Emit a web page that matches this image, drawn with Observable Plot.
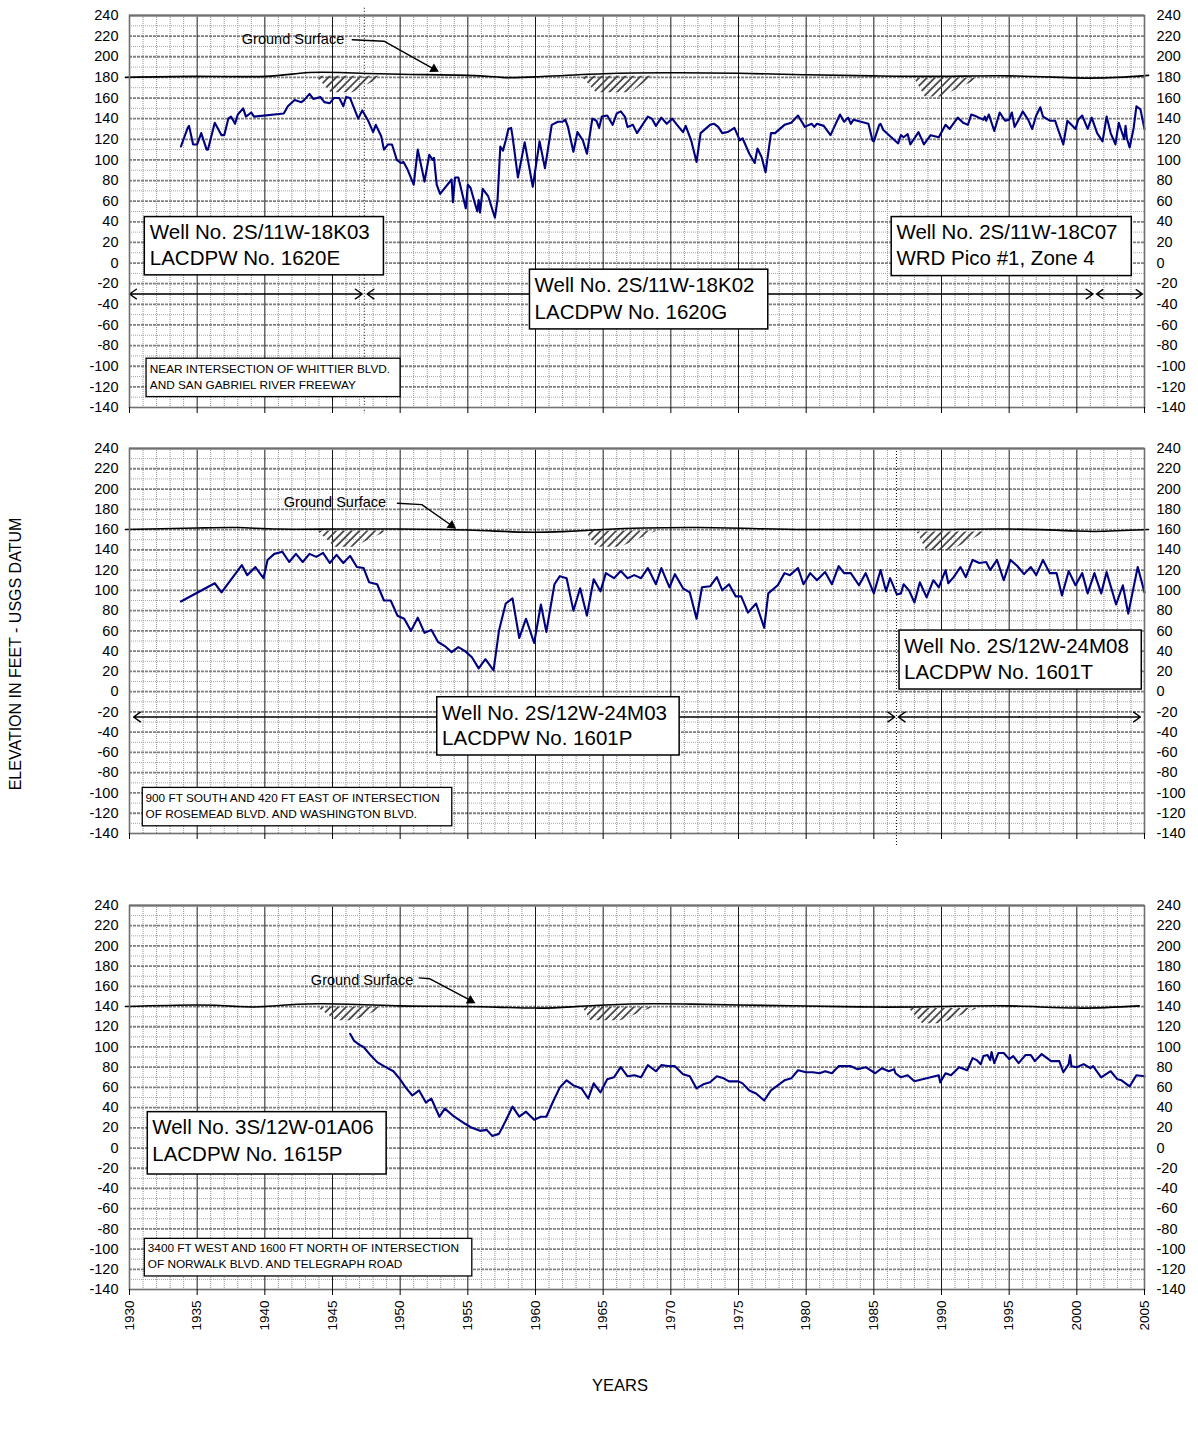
<!DOCTYPE html>
<html>
<head>
<meta charset="utf-8">
<script src="https://cdn.jsdelivr.net/npm/d3@7"></script>
<script src="https://cdn.jsdelivr.net/npm/@observablehq/plot@0.6"></script>
<style>
  body { margin: 0; background: #fff; }
  #page { position: relative; width: 1198px; height: 1432px; font-family: Arial, "Liberation Sans", Helvetica, sans-serif; color: #000; }
  .panel { position: absolute; left: 0; }
  #ytitle { position: absolute; left: 16px; top: 654px; transform: translate(-50%, -50%) rotate(-90deg); white-space: nowrap; font-size: 16px; }
  #xtitle { position: absolute; left: 620px; top: 1385px; transform: translate(-50%, -50%); font-size: 16.5px; }
</style>
</head>
<body>
<div id="page">
  <div id="ytitle">ELEVATION IN FEET - USGS DATUM</div>
  <div id="xtitle">YEARS</div>
</div>
<script>
// ---------------- DATA ----------------
// Panel 1 : Wells 2S/11W-18K03, 18K02, 18C07 (combined hydrograph)
const p1Year = [1933.8,1934.3,1934.4,1934.7,1935.0,1935.3,1935.7,1935.8,1936.3,1936.8,1937.0,1937.3,1937.5,1937.8,1938.0,1938.4,1938.6,1939.0,1939.2,
  1941.4,1941.7,1942.2,1942.7,1942.9,1943.3,1943.6,1944.1,1944.4,1944.8,1945.1,1945.5,1945.8,1946.0,1946.3,1946.9,1947.2,1947.6,1948.0,1948.2,
  1948.6,1948.8,1949.1,1949.4,1949.75,1950.05,1950.25,1950.5,1951.0,1951.3,1951.8,1952.15,1952.4,1952.5,1952.7,1952.95,1953.8,1953.9,1954.05,1954.3,
  1954.85,1955.0,1955.2,1955.5,1955.7,1955.8,1955.9,1956.1,1956.5,1957.0,1957.2,1957.4,1957.6,1957.8,1958.0,1958.2,1958.3,1958.7,1959.2,1959.8,
  1960.3,1960.7,1961.2,1961.65,1962.0,1962.2,1962.4,1962.8,1963.1,1963.5,1963.8,1964.2,1964.5,1964.7,1964.9,1965.3,1965.7,1966.0,1966.3,1966.6,
  1966.8,1967.2,1967.5,1967.9,1968.3,1968.6,1968.9,1969.3,1969.7,1970.1,1970.4,1970.9,1971.1,1971.5,1971.9,1972.2,1972.9,1973.2,1973.5,1973.8,
  1974.2,1974.7,1975.1,1975.3,1975.8,1976.2,1976.4,1976.7,1977.0,1977.4,1977.7,1978.4,1978.9,1979.4,1979.9,1980.4,1980.6,1980.8,1981.3,1981.8,
  1982.5,1982.8,1983.1,1983.3,1983.5,1984.6,1984.9,1985.0,1985.4,1985.5,1985.7,1986.8,1987.0,1987.2,1987.5,1987.7,1988.3,1988.7,1989.2,1989.8,
  1990.3,1990.6,1991.2,1991.6,1991.95,1992.2,1992.6,1993.1,1993.2,1993.3,1993.5,1993.9,1994.3,1994.7,1995.0,1995.2,1995.4,1995.7,1996.0,1996.4,
  1996.7,1997.0,1997.3,1997.5,1998.0,1998.4,1998.6,1999.0,1999.3,1999.6,1999.9,2000.1,2000.4,2000.8,2001.1,2001.5,2001.9,2002.2,2002.5,2002.85,
  2003.1,2003.5,2003.6,2003.7,2003.9,2004.2,2004.4,2004.7,2005.0];
const p1Elev = [113,131,133,115,115,126,110,110,136,124,124,140,142,135,144,150,142,146,142,
  145,152,158,156,158,164,159,161,156,155,160,160,152,161,160,140,148,139,127,134,
  123,110,115,115,100,97,98,92,76,110,79,105,100,102,76,67,81,59,83,83,
  53,76,73,59,50,61,49,72,65,44,62,113,109,119,130,131,123,83,117,74,
  118,92,134,137,137,139,132,108,127,119,106,140,138,131,142,143,134,145,147,142,
  132,134,126,134,142,140,133,141,135,140,135,127,133,119,98,126,134,135,132,126,
  127,131,119,121,106,97,111,103,88,126,126,134,136,143,132,135,132,135,133,124,
  144,137,141,135,139,135,119,118,134,135,129,116,124,122,125,115,127,115,124,122,
  134,130,141,136,134,144,142,139,142,138,144,128,146,138,139,146,132,139,147,139,
  130,143,151,142,138,138,130,115,138,134,130,139,143,130,141,126,118,142,126,115,
  136,120,133,121,112,131,152,149,130];
const p1GroundYear = [1929.7,1935,1940,1943,1946,1950,1955,1957.5,1960,1965,1970,1975,1980,1985,1990,1995,2000,2003,2005.3];
const p1GroundElev = [180,181,181,184.5,184.5,183,182,180,180.5,183.5,184.5,184,182.5,181.5,181,181.5,179.5,180,182];

// Panel 2 : Wells 2S/12W-24M03 and 24M08
const p2Year = [1933.8,1936.3,1936.8,1938.3,1938.7,1939.3,1939.9,1940.2,1940.7,1941.3,1941.8,1942.3,1942.8,1943.3,1943.8,1944.3,1944.8,1945.3,1945.8,1946.3,
  1946.8,1947.3,1947.7,1948.3,1948.8,1949.3,1949.8,1950.3,1950.8,1951.3,1951.8,1952.3,1952.8,1953.3,1953.8,1954.3,1954.8,1955.3,1955.8,1956.3,
  1956.9,1957.3,1957.8,1958.3,1958.8,1959.3,1959.9,1960.4,1960.8,1961.4,1961.8,1962.3,1962.8,1963.3,1963.8,1964.3,1964.8,1965.2,1965.8,1966.3,
  1966.8,1967.3,1967.8,1968.3,1968.9,1969.3,1969.9,1970.3,1970.9,1971.4,1971.9,1972.3,1972.9,1973.4,1973.8,1974.3,1974.8,1975.2,1975.7,1976.3,
  1976.9,1977.2,1977.9,1978.4,1978.8,1979.4,1979.8,1980.3,1980.8,1981.4,1981.9,1982.4,1982.8,1983.3,1983.9,1984.4,1985.0,1985.5,1985.9,1986.2,
  1986.7,1987.0,1987.2,1987.6,1988.0,1988.4,1988.9,1989.4,1989.8,1990.3,1990.5,1990.9,1991.4,1991.8,1992.3,1992.8,1993.3,1993.6,1994.1,1994.6,
  1995.1,1995.6,1996.1,1996.6,1997.0,1997.5,1998.0,1998.5,1998.9,1999.4,1999.9,2000.4,2000.8,2001.3,2001.8,2002.2,2002.9,2003.4,2003.8,2004.5,2005.0];
const p2Elev = [89,107,98,125,115,123,112,130,136,138,128,136,128,136,133,137,127,135,127,134,
  123,122,108,106,90,90,75,72,60,73,58,61,49,45,39,44,40,34,23,32,
  21,60,87,92,53,72,48,86,59,106,114,112,80,102,75,111,99,117,112,119,
  112,115,112,122,106,122,103,116,102,98,72,103,104,113,100,106,94,94,78,87,
  63,97,105,117,115,122,106,117,110,118,106,124,117,117,105,117,97,120,99,112,
  96,97,106,100,88,108,93,110,103,120,107,113,123,113,130,127,128,120,130,110,
  130,124,116,123,115,130,117,117,95,119,105,117,97,117,97,118,86,105,77,123,98];
const p2GroundYear = [1929.7,1935,1938,1941,1945,1950,1955,1959,1962,1965,1968,1972,1976,1980,1985,1990,1995,2000,2002,2005.3];
const p2GroundElev = [160,161.5,162,160.5,160.5,160.5,159.5,157.5,158,160,161.5,162,161,160,160,160,160.5,158.5,158.3,160];

// Panel 3 : Well 3S/12W-01A06
const p3Year = [1946.3,1946.6,1947.0,1947.3,1947.8,1948.3,1948.8,1949.5,1950.0,1950.4,1950.9,1951.4,1951.9,1952.3,1952.9,1953.3,1954.0,1954.8,1955.3,1955.9,
  1956.4,1956.8,1957.3,1957.8,1958.3,1958.8,1959.3,1959.9,1960.4,1960.8,1961.3,1961.8,1962.3,1962.8,1963.4,1963.9,1964.3,1964.8,1965.3,1965.8,
  1966.3,1966.8,1967.3,1967.8,1968.3,1968.9,1969.3,1969.9,1970.3,1970.9,1971.4,1971.9,1972.4,1972.9,1973.4,1973.9,1974.3,1975.0,1975.3,1975.8,
  1976.3,1976.9,1977.4,1977.9,1978.4,1978.9,1979.4,1980.0,1980.5,1981.0,1981.4,1981.9,1982.4,1982.8,1983.3,1983.8,1984.4,1985.1,1985.6,1986.1,
  1986.5,1986.6,1987.0,1987.5,1988.0,1988.6,1989.8,1989.9,1990.3,1990.7,1991.3,1991.9,1992.3,1992.6,1992.9,1993.1,1993.4,1993.6,1993.7,1993.9,
  1994.2,1994.6,1995.0,1995.3,1995.7,1996.2,1996.6,1996.9,1997.4,1998.1,1998.7,1999.0,1999.4,1999.5,1999.6,2000.0,2000.5,2001.0,2001.2,2001.8,
  2002.5,2003.0,2003.3,2003.9,2004.4,2005.0];
const p3Elev = [113,106,102,100,92,85,81,76,68,60,52,57,45,49,31,39,31,24,20,17,
  18,12,14,27,41,31,36,28,31,31,46,60,67,62,59,49,64,55,68,70,
  80,71,72,70,82,76,82,81,81,73,71,59,63,65,71,69,66,66,64,57,
  54,47,57,62,67,69,77,75,75,74,76,74,81,81,81,78,80,74,79,76,
  78,74,70,72,66,68,72,65,74,72,80,77,89,87,83,91,92,87,95,84,
  94,94,88,91,84,92,92,86,93,86,86,75,83,92,81,80,83,79,81,70,
  76,68,67,61,72,71];
const p3GroundYear = [1929.7,1935,1938,1940,1944,1950,1955,1960,1963,1967,1971,1975,1980,1985,1990,1995,2000,2004.6];
const p3GroundElev = [140,141.5,140,140,142.7,140.7,140,138.5,140,142.5,142.5,141.5,140.5,139.5,140,140.7,138.5,140.7];

// Hatched (below-ground) symbols: [top-left, bottom-left, bottom-right, top-right] years, top & bottom elevations
const p1HatchX = [[1943.8,1944.9,1946.5,1948.8],[1963.4,1964.5,1967.1,1968.7],[1988.0,1988.8,1990.0,1992.8]];
const p1HatchTop = [181,181,179];
const p1HatchBottom = [165,165,161];
const p2HatchX = [[1943.9,1945.2,1946.6,1949.1],[1963.7,1964.5,1966.3,1969.0],[1988.2,1988.9,1990.7,1993.3]];
const p2HatchTop = [158.5,158.5,157.5];
const p2HatchBottom = [142.5,142.5,139];
const p3HatchX = [[1943.9,1945.3,1946.6,1948.9],[1963.5,1964.1,1966.3,1968.7],[1987.6,1988.6,1990.0,1992.7]];
const p3HatchTop = [139,139,138];
const p3HatchBottom = [126,126,123];

// Well-record spans (double arrows)
const p1SpanStart = [1930.0,1947.55,2001.45];
const p1SpanEnd = [1947.2,2001.2,2004.85];
const p2SpanStart = [1930.3,1986.8];
const p2SpanEnd = [1986.55,2004.7];

// Label texts
const p1WellText = [["Well No. 2S/11W-18K03","LACDPW No. 1620E"],["Well No. 2S/11W-18K02","LACDPW No. 1620G"],["Well No. 2S/11W-18C07","WRD Pico #1, Zone 4"]];
const p1LocText = ["NEAR INTERSECTION OF WHITTIER BLVD.","AND SAN GABRIEL RIVER FREEWAY"];
const p2WellText = [["Well No. 2S/12W-24M03","LACDPW No. 1601P"],["Well No. 2S/12W-24M08","LACDPW No. 1601T"]];
const p2LocText = ["900 FT SOUTH AND 420 FT EAST OF INTERSECTION","OF ROSEMEAD BLVD. AND WASHINGTON BLVD."];
const p3WellText = [["Well No. 3S/12W-01A06","LACDPW No. 1615P"]];
const p3LocText = ["3400 FT WEST AND 1600 FT NORTH OF INTERSECTION","OF NORWALK BLVD. AND TELEGRAPH ROAD"];
const groundText = "Ground Surface";

const yTickValues = d3.range(-140, 241, 20);
const xTickValues = d3.range(1930, 2006, 5);

// ---------------- LAYOUT / ANNOTATION PLACEMENT ----------------
const FONT = 'Arial, "Liberation Sans", Helvetica, sans-serif';
const X_LEFT = 129, X_RIGHT = 1144, PAGE_W = 1198;

const panels = [
  {
    svgTop: 0, marginTop: 15, plotH: 392, marginBottom: 12,
    years: p1Year, elev: p1Elev, gYear: p1GroundYear, gElev: p1GroundElev,
    hatchX: p1HatchX, hatchTop: p1HatchTop, hatchBottom: p1HatchBottom,
    spanStart: p1SpanStart, spanEnd: p1SpanEnd, spanY: -30,
    divider: {x: 1947.35, y1: 247, y2: -146},
    wellBoxes: [
      {box: [1931.13, 1948.8, 44.6, -11.9], tx: 1931.5, ty: [29.5, 4.2], text: p1WellText[0]},
      {box: [1959.59, 1977.2, -6.4, -64.3], tx: 1959.93, ty: [-21.6, -47.5], text: p1WellText[1]},
      {box: [1986.32, 2004.06, 44.6, -12.6], tx: 1986.67, ty: [29.4, 4.2], text: p1WellText[2]}
    ],
    locBox: {box: [1931.26, 1950.03, -92.7, -129.9], tx: 1931.5, ty: [-103, -118.5], text: p1LocText},
    pointer: {tx: 1938.3, ty: 217, path: [[1946.46, 216.5], [1948.8, 215.1], [1952.5, 188]]},
    showXLabels: false
  },
  {
    svgTop: 430, marginTop: 18, plotH: 385, marginBottom: 16,
    years: p2Year, elev: p2Elev, gYear: p2GroundYear, gElev: p2GroundElev,
    hatchX: p2HatchX, hatchTop: p2HatchTop, hatchBottom: p2HatchBottom,
    spanStart: p2SpanStart, spanEnd: p2SpanEnd, spanY: -25,
    divider: {x: 1986.67, y1: 240, y2: -152},
    wellBoxes: [
      {box: [1952.74, 1970.65, -5.5, -63], tx: 1953.1, ty: [-21.6, -46.3], text: p2WellText[0]},
      {box: [1986.9, 2004.8, 60.3, 2.1], tx: 1987.23, ty: [44.5, 19.2], text: p2WellText[1]}
    ],
    locBox: {box: [1930.98, 1953.85, -95, -132.9], tx: 1931.18, ty: [-105.2, -121.3], text: p2LocText},
    pointer: {tx: 1941.4, ty: 187, path: [[1949.8, 186], [1951.6, 184.6], [1953.8, 164]]},
    showXLabels: false
  },
  {
    svgTop: 885, marginTop: 20, plotH: 384, marginBottom: 70,
    years: p3Year, elev: p3Elev, gYear: p3GroundYear, gElev: p3GroundElev,
    hatchX: p3HatchX, hatchTop: p3HatchTop, hatchBottom: p3HatchBottom,
    spanStart: [], spanEnd: [], spanY: 0,
    divider: null,
    wellBoxes: [
      {box: [1931.35, 1949.0, 35.5, -26.2], tx: 1931.68, ty: [20, -6.4], text: p3WellText[0]}
    ],
    locBox: {box: [1931.13, 1955.33, -89.9, -127.1], tx: 1931.35, ty: [-98.7, -114.6], text: p3LocText},
    pointer: {tx: 1943.4, ty: 166, path: [[1951.4, 168.4], [1952.2, 167.5], [1955.2, 146]]},
    showXLabels: true
  }
];

const minorYears = d3.range(1931, 2005).filter(y => y % 5 !== 0);
const majorYears = d3.range(1935, 2005, 5);
const oddTens = d3.range(-130, 240, 20);
const evenTwenties = d3.range(-120, 240, 20);

function buildPanel(cfg, idx) {
  const height = cfg.marginTop + cfg.plotH + cfg.marginBottom;
  const pxPerYear = (X_RIGHT - X_LEFT) / 75;
  const pxPerUnit = cfg.plotH / 380;

  const series = cfg.years.map((x, i) => ({x, y: cfg.elev[i]}));
  const ground = cfg.gYear.map((x, i) => ({x, y: cfg.gElev[i]}));

  const hatch = [];
  cfg.hatchX.forEach((xs, i) => {
    const top = cfg.hatchTop[i], bot = cfg.hatchBottom[i];
    hatch.push({k: i, x: xs[0], lo: top, hi: top});
    hatch.push({k: i, x: xs[1], lo: bot, hi: top});
    hatch.push({k: i, x: xs[2], lo: bot, hi: top});
    hatch.push({k: i, x: xs[3], lo: top, hi: top});
  });

  // double-headed arrows: two arrows from each span's midpoint outward
  const halfArrows = [];
  cfg.spanStart.forEach((s, i) => {
    const e = cfg.spanEnd[i], m = (s + e) / 2;
    halfArrows.push({x1: m, x2: s, y: cfg.spanY});
    halfArrows.push({x1: m, x2: e, y: cfg.spanY});
  });

  const boxes = cfg.wellBoxes.map(b => ({x1: b.box[0], x2: b.box[1], y1: b.box[2], y2: b.box[3]}));
  const boxLines = [];
  cfg.wellBoxes.forEach(b => b.text.forEach((t, j) => boxLines.push({x: b.tx, y: b.ty[j], t})));
  const loc = cfg.locBox;
  const locRect = [{x1: loc.box[0], x2: loc.box[1], y1: loc.box[2], y2: loc.box[3]}];
  const locLines = loc.text.map((t, j) => ({x: loc.tx, y: loc.ty[j], t}));

  const pp = cfg.pointer.path.map(([x, y]) => ({x, y}));
  const a = pp[pp.length - 2], b = pp[pp.length - 1];
  const ang = Math.atan2(-(b.y - a.y) * pxPerUnit, (b.x - a.x) * pxPerYear) * 180 / Math.PI;

  const marks = [
    Plot.ruleX(minorYears, {stroke: "#8f8f8f", strokeWidth: 1, strokeDasharray: "1,1"}),
    Plot.ruleY(oddTens, {stroke: "#a8a8a8", strokeWidth: 1, strokeDasharray: "1,1"}),
    Plot.ruleY(evenTwenties, {stroke: "#808080", strokeWidth: 1.8, strokeDasharray: "3,1"}),
    Plot.ruleX(majorYears, {stroke: "#000", strokeWidth: 0.9}),
    Plot.areaY(hatch, {x: "x", y1: "lo", y2: "hi", z: "k", fill: `url(#hatch${idx})`, curve: "linear"}),
    Plot.line(ground, {x: "x", y: "y", stroke: "#000", strokeWidth: 1.6, curve: "natural"}),
    Plot.line(series, {x: "x", y: "y", stroke: "#000080", strokeWidth: 2.1, curve: "linear"}),
  ];
  if (halfArrows.length) {
    marks.push(Plot.arrow(halfArrows, {x1: "x1", x2: "x2", y1: "y", y2: "y", stroke: "#000", strokeWidth: 1.4, headLength: 9, headAngle: 70}));
  }
  if (cfg.divider) {
    marks.push(Plot.ruleX([cfg.divider.x], {y1: cfg.divider.y1, y2: cfg.divider.y2, stroke: "#000", strokeWidth: 1, strokeDasharray: "1,2"}));
  }
  marks.push(
    Plot.rect(boxes, {x1: "x1", x2: "x2", y1: "y1", y2: "y2", fill: "#fff", stroke: "#000", strokeWidth: 1.5}),
    Plot.text(boxLines, {x: "x", y: "y", text: "t", textAnchor: "start", fontSize: 20.5, fill: "#000"}),
    Plot.rect(locRect, {x1: "x1", x2: "x2", y1: "y1", y2: "y2", fill: "#fff", stroke: "#000", strokeWidth: 1.3}),
    Plot.text(locLines, {x: "x", y: "y", text: "t", textAnchor: "start", fontSize: 11.8, fill: "#000"}),
    Plot.text([cfg.pointer], {x: "tx", y: "ty", text: () => groundText, textAnchor: "start", fontSize: 14.5, fill: "#000"}),
    Plot.line(pp, {x: "x", y: "y", stroke: "#000", strokeWidth: 1.4, curve: "linear"}),
    Plot.dot([b], {x: "x", y: "y", symbol: "triangle", r: 3.6, fill: "#000", stroke: "none", rotate: 90 + ang}),
    Plot.ruleY([240], {stroke: "#9a9a9a", strokeWidth: 2.5}),
    Plot.frame({stroke: "#707070", strokeWidth: 1.6}),
    Plot.axisY({anchor: "left", ticks: yTickValues, tickSize: 0, tickPadding: 11, fontSize: 14.5, label: null, tickFormat: d => String(d)}),
    Plot.axisY({anchor: "right", ticks: yTickValues, tickSize: 0, tickPadding: 12, fontSize: 14.5, label: null, tickFormat: d => String(d)}),
    Plot.axisX({ticks: xTickValues, tickSize: 6, tickPadding: 5, fontSize: 13.5, label: null,
      tickRotate: cfg.showXLabels ? -90 : 0,
      tickFormat: cfg.showXLabels ? (d => String(d)) : (() => "")})
  );

  const svg = Plot.plot({
    width: PAGE_W,
    height,
    marginLeft: X_LEFT,
    marginRight: PAGE_W - X_RIGHT,
    marginTop: cfg.marginTop,
    marginBottom: cfg.marginBottom,
    x: {domain: [1930, 2005]},
    y: {domain: [-140, 240]},
    style: {fontFamily: FONT, background: "transparent", overflow: "visible", color: "#000"},
    marks
  });

  const defs = document.createElementNS("http://www.w3.org/2000/svg", "defs");
  defs.innerHTML = `<pattern id="hatch${idx}" patternUnits="userSpaceOnUse" width="5.5" height="5.5" patternTransform="rotate(45)">
      <line x1="1" y1="0" x2="1" y2="5.5" stroke="#3c3c3c" stroke-width="1.7"/></pattern>`;
  svg.insertBefore(defs, svg.firstChild);
  svg.classList.add("panel");
  svg.style.top = cfg.svgTop + "px";
  return svg;
}

const page = document.getElementById("page");
panels.forEach((cfg, i) => page.appendChild(buildPanel(cfg, i)));
</script>
</body>
</html>
